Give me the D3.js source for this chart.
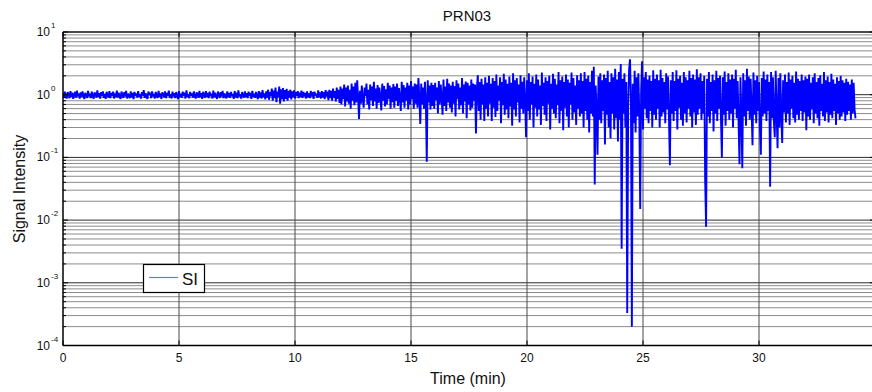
<!DOCTYPE html>
<html>
<head>
<meta charset="utf-8">
<script src="https://cdn.jsdelivr.net/npm/d3@7"></script>
<style>
  body { margin: 0; background: #fff; }
  svg { display: block; }
  text { font-family: "Liberation Sans", Arial, sans-serif; fill: #111; }
</style>
</head>
<body>
<svg id="chart" width="872" height="392"></svg>
<script>
// Signal intensity for PRN03, sampled every 0.04 min from t = 0
const sampleStartMin = 0;
const sampleStepMin = 0.04;
const signalIntensity = [
  1.06,0.9,1.12,0.95,0.87,1.1,1.02,0.88,1.14,0.93,1.08,0.86,0.98,1.11,0.9,1.16,0.94,1.05,0.87,1.09,
  0.92,1.13,0.97,0.85,1.07,1.0,0.89,1.15,0.94,1.04,0.88,1.12,0.96,0.86,1.09,1.01,0.9,1.17,0.93,1.06,
  0.87,1.1,0.95,1.13,0.89,1.03,0.86,1.11,0.98,0.91,1.14,0.88,1.07,0.95,1.12,0.87,1.05,0.92,1.16,0.9,
  1.08,0.94,0.86,1.12,1.0,0.89,1.1,0.93,1.15,0.87,1.04,0.97,0.88,1.13,0.91,1.07,0.85,1.11,0.96,1.05,
  0.9,1.14,0.93,1.02,0.87,1.1,0.95,1.18,0.89,1.06,0.92,0.86,1.12,0.99,1.08,0.88,1.13,0.94,1.03,0.87,
  1.11,0.96,0.89,1.15,0.93,1.05,0.86,1.09,1.0,0.91,1.13,0.88,1.07,0.95,1.16,0.9,1.02,0.87,1.12,0.94,
  1.06,0.88,1.1,0.97,0.85,1.14,0.92,1.04,0.89,1.12,0.95,1.08,0.87,1.17,0.93,1.01,0.88,1.11,0.96,1.05,
  0.9,1.13,0.94,0.87,1.09,1.02,0.89,1.15,0.92,1.06,0.86,1.11,0.98,0.9,1.14,0.93,1.07,0.88,1.12,0.95,
  1.04,0.87,1.16,0.91,1.08,0.94,0.86,1.12,1.0,0.89,1.1,0.93,1.15,0.88,1.05,0.96,0.87,1.13,0.92,1.07,
  0.89,1.11,0.95,1.03,0.86,1.14,0.91,1.08,0.88,1.17,0.94,1.02,0.87,1.1,0.97,0.9,1.13,0.92,1.06,0.88,
  1.12,0.95,1.07,0.86,1.15,0.93,1.04,0.89,1.11,0.96,0.85,1.14,0.9,1.09,0.87,1.18,0.92,1.05,0.84,1.13,
  0.9,1.2,0.83,1.1,0.94,1.25,0.8,1.16,0.88,1.3,0.76,1.12,0.92,1.35,0.72,1.22,0.85,1.28,0.78,1.18,
  0.86,1.24,0.8,1.15,0.9,1.2,0.84,1.13,0.92,1.17,0.87,1.1,0.95,1.14,0.88,1.08,0.93,1.16,0.89,1.11,
  0.94,1.07,0.87,1.13,0.91,1.05,0.88,1.15,0.93,1.1,0.86,1.12,0.96,1.04,0.89,1.17,0.92,1.09,0.87,1.14,
  0.9,1.1,0.85,1.18,0.93,1.12,0.82,1.2,0.88,1.15,0.8,1.25,0.9,1.14,0.78,1.3,0.86,1.2,0.74,1.35,
  0.7,1.25,0.85,1.45,0.65,1.3,0.78,1.4,0.72,1.2,0.6,1.5,0.8,1.35,0.68,1.55,0.75,1.7,0.9,0.41,
  1.15,0.72,1.4,0.85,0.62,1.3,0.95,1.5,0.7,1.2,0.58,1.45,0.82,1.35,0.66,1.6,0.78,1.25,0.6,1.42,
  0.74,1.3,0.9,0.56,1.5,0.8,1.38,0.65,1.22,0.7,1.55,0.85,1.4,0.6,1.3,0.76,1.48,0.62,1.35,0.8,
  1.5,0.66,1.28,0.9,0.55,1.6,0.75,1.42,0.62,1.3,0.8,1.55,0.58,1.4,0.7,1.65,0.85,1.35,0.6,1.5,
  0.72,1.45,0.62,1.85,0.9,0.34,1.5,0.7,1.3,0.6,1.6,0.8,0.085,1.7,0.75,1.4,0.58,1.55,0.66,1.42,
  0.6,1.55,0.82,1.3,0.5,1.65,0.7,1.45,0.9,0.48,1.75,0.66,1.35,0.55,1.8,0.75,1.5,0.62,1.4,0.52,
  1.6,0.72,1.38,0.45,1.7,0.85,1.5,0.58,1.3,0.68,1.85,0.5,1.45,0.78,1.62,0.42,1.55,0.7,1.4,0.56,
  1.75,0.62,1.5,0.8,1.45,0.24,1.3,2.05,0.55,1.6,0.4,1.8,0.7,1.45,0.38,1.9,0.6,1.55,0.45,2.0,
  0.72,1.5,0.38,1.85,0.62,1.65,0.44,2.1,0.55,1.4,0.8,1.9,0.35,1.6,0.68,2.15,0.48,1.75,0.58,1.5,
  0.42,1.95,0.65,1.55,0.32,2.2,0.58,1.7,0.45,1.85,0.75,1.45,0.36,2.05,0.6,1.6,0.5,1.9,0.8,0.21,
  1.7,0.55,2.2,0.4,1.6,0.7,1.95,0.3,1.5,0.62,2.1,0.45,1.75,0.58,1.4,0.33,2.25,0.66,1.55,0.48,
  1.9,0.38,1.65,0.72,2.0,0.28,1.5,0.6,2.15,0.5,1.8,0.42,1.45,0.68,2.3,0.35,1.7,0.55,1.95,0.27,
  1.6,0.62,2.1,0.45,1.75,0.3,1.55,0.7,2.25,0.4,1.85,0.52,1.4,0.33,2.05,0.6,1.7,0.45,2.2,0.5,
  1.65,0.3,2.3,0.55,1.8,0.4,2.0,0.25,1.6,0.5,2.4,0.45,2.8,0.037,1.4,0.6,0.11,1.95,0.4,2.2,
  0.35,1.7,0.55,2.1,0.16,1.85,0.48,2.4,0.3,1.6,0.2,2.2,0.5,1.9,0.28,2.6,0.42,1.75,0.18,2.3,
  0.4,3.1,0.0035,1.8,0.5,2.2,0.3,1.6,0.00033,0.6,2.5,3.66,0.9,0.0002,1.5,0.35,2.4,0.25,1.9,0.45,
  2.2,0.5,0.015,1.2,3.4,0.28,1.9,0.6,2.3,0.42,1.75,0.35,2.0,0.55,1.65,0.3,2.45,0.48,1.8,0.4,
  2.1,0.6,1.7,0.3,2.5,0.45,1.85,0.52,1.6,0.35,2.2,0.58,1.95,0.4,0.075,1.7,0.5,2.3,0.38,1.65,
  0.55,2.45,0.28,1.8,0.62,2.0,0.4,1.55,0.32,2.3,0.5,1.9,0.36,1.7,0.6,2.4,0.45,1.85,0.3,2.1,
  0.52,1.75,0.33,2.55,0.48,1.9,0.6,2.2,0.4,1.65,0.5,2.0,0.042,0.0078,1.8,0.45,2.3,0.35,1.6,0.55,
  2.1,0.26,1.7,0.5,2.4,0.38,1.85,0.6,2.0,0.42,0.1,1.9,0.48,2.35,0.32,1.6,0.55,2.2,0.4,1.75,
  0.5,2.1,0.3,1.8,0.6,2.5,0.42,1.65,0.35,0.078,1.9,0.52,0.067,2.2,0.45,1.7,0.32,2.6,0.55,1.95,
  0.4,1.8,0.6,0.157,2.25,0.48,1.7,0.35,2.0,0.55,1.6,0.3,0.11,1.85,0.45,2.35,0.5,1.75,0.38,2.1,
  0.55,1.6,0.034,2.3,0.42,1.9,0.38,0.21,2.4,0.5,0.14,1.85,0.3,2.2,0.45,0.17,1.7,0.52,2.1,0.36,
  1.6,0.5,2.25,0.33,1.75,0.6,2.0,0.42,1.55,0.36,2.35,0.48,1.8,0.4,1.65,0.55,2.1,0.38,1.7,0.52,
  1.95,0.27,1.8,0.45,2.1,0.4,1.55,0.58,1.9,0.35,2.2,0.5,1.6,0.42,1.85,0.32,2.05,0.55,1.5,0.45,
  2.3,0.38,1.7,0.52,1.95,0.36,1.6,0.48,2.15,0.42,1.75,0.55,1.5,0.33,1.9,0.5,1.65,0.4,2.0,0.45,
  1.7,0.52,1.55,0.38,1.8,0.48,1.6,0.55,1.45,0.4,1.75,0.5,1.55,0.58,0.42
];

const xDomain = [0, 35];
const yDomain = [1e-4, 1e1];
const xTicks = [0, 5, 10, 15, 20, 25, 30];
const yDecadeExponents = [-4, -3, -2, -1, 0, 1];
const minorMultipliers = [2, 3, 4, 5, 6, 7, 8, 9];
const titleText = "PRN03";
const xLabelText = "Time (min)";
const yLabelText = "Signal Intensity";
const legendLabel = "SI";

const plot = { left: 63, right: 875, top: 32, bottom: 345.5 };
const svg = d3.select("#chart");
svg.append("rect").attr("width", 872).attr("height", 392).attr("fill", "#fff");

const x = d3.scaleLinear().domain(xDomain).range([plot.left, plot.right]);
const y = d3.scaleLog().domain(yDomain).range([plot.bottom, plot.top]);

const series = signalIntensity.map((v, i) => ({ t: sampleStartMin + i * sampleStepMin, v }));

// minor horizontal grid
const minorVals = [];
yDecadeExponents.slice(0, -1).forEach(e => minorMultipliers.forEach(m => minorVals.push(m * Math.pow(10, e))));
const grid = svg.append("g");
grid.selectAll("line.minor").data(minorVals).join("line")
  .attr("x1", plot.left).attr("x2", plot.right)
  .attr("y1", d => y(d)).attr("y2", d => y(d))
  .attr("stroke", "#8c8c8c").attr("stroke-width", 1);
// decade grid lines
grid.selectAll("line.major").data(yDecadeExponents.map(e => Math.pow(10, e))).join("line")
  .attr("x1", plot.left).attr("x2", plot.right)
  .attr("y1", d => y(d)).attr("y2", d => y(d))
  .attr("stroke", "#2a2a2a").attr("stroke-width", 1);
// vertical grid lines
grid.selectAll("line.vert").data(xTicks.filter(d => d > 0)).join("line")
  .attr("x1", d => x(d)).attr("x2", d => x(d))
  .attr("y1", plot.top).attr("y2", plot.bottom)
  .attr("stroke", "#4a4a4a").attr("stroke-width", 1);

// data line
svg.append("defs").append("clipPath").attr("id", "plotClip")
  .append("rect").attr("x", plot.left).attr("y", plot.top)
  .attr("width", plot.right - plot.left).attr("height", plot.bottom - plot.top);
const line = d3.line().x(d => x(d.t)).y(d => y(d.v));
svg.append("path").datum(series)
  .attr("clip-path", "url(#plotClip)")
  .attr("d", line).attr("fill", "none")
  .attr("stroke", "#0000ff").attr("stroke-width", 1.9).attr("stroke-linejoin", "bevel");

// axes frame
const frame = svg.append("g").attr("stroke", "#000").attr("fill", "none");
frame.append("line").attr("x1", plot.left).attr("x2", plot.right).attr("y1", plot.bottom).attr("y2", plot.bottom).attr("stroke-width", 1.5);
frame.append("line").attr("x1", plot.left).attr("x2", plot.right).attr("y1", plot.top).attr("y2", plot.top).attr("stroke-width", 1.2);
frame.append("line").attr("x1", plot.left).attr("x2", plot.left).attr("y1", plot.top).attr("y2", plot.bottom).attr("stroke-width", 1.5);
frame.append("line").attr("x1", plot.right).attr("x2", plot.right).attr("y1", plot.top).attr("y2", plot.bottom).attr("stroke-width", 1.2);

// x ticks (inward, top and bottom)
const ticks = svg.append("g").attr("stroke", "#000").attr("stroke-width", 1);
xTicks.forEach(t => {
  ticks.append("line").attr("x1", x(t)).attr("x2", x(t)).attr("y1", plot.bottom).attr("y2", plot.bottom - 5);
  ticks.append("line").attr("x1", x(t)).attr("x2", x(t)).attr("y1", plot.top).attr("y2", plot.top + 5);
});
// y ticks (inward, left and right)
yDecadeExponents.forEach(e => {
  const yy = y(Math.pow(10, e));
  ticks.append("line").attr("x1", plot.left).attr("x2", plot.left + 5).attr("y1", yy).attr("y2", yy);
  ticks.append("line").attr("x1", plot.right).attr("x2", plot.right - 5).attr("y1", yy).attr("y2", yy);
});
minorVals.forEach(v => {
  const yy = y(v);
  ticks.append("line").attr("x1", plot.left).attr("x2", plot.left + 3).attr("y1", yy).attr("y2", yy);
  ticks.append("line").attr("x1", plot.right).attr("x2", plot.right - 3).attr("y1", yy).attr("y2", yy);
});

// tick labels
const xl = svg.append("g");
xl.selectAll("text").data(xTicks).join("text")
  .attr("x", d => x(d)).attr("y", 361.5)
  .attr("text-anchor", "middle").attr("font-size", 12)
  .text(d => d);

const yl = svg.append("g");
yDecadeExponents.forEach(e => {
  const yy = y(Math.pow(10, e));
  yl.append("text").attr("x", 50).attr("y", yy + 4).attr("text-anchor", "end")
    .attr("font-size", 12).text("10");
  yl.append("text").attr("x", 51).attr("y", yy - 4).attr("text-anchor", "start")
    .attr("font-size", 8).text(e);
});

// title and axis labels
svg.append("text").attr("x", 467).attr("y", 21).attr("text-anchor", "middle")
  .attr("font-size", 15).text(titleText);
svg.append("text").attr("x", 468).attr("y", 384).attr("text-anchor", "middle")
  .attr("font-size", 16).text(xLabelText);
svg.append("text").attr("transform", "translate(25,189) rotate(-90)")
  .attr("text-anchor", "middle").attr("font-size", 16).text(yLabelText);

// legend
const lg = svg.append("g");
lg.append("rect").attr("x", 143.5).attr("y", 264.5).attr("width", 61).attr("height", 28)
  .attr("fill", "#fff").attr("stroke", "#000").attr("stroke-width", 1.2);
lg.append("line").attr("x1", 149).attr("x2", 178).attr("y1", 277.5).attr("y2", 277.5)
  .attr("stroke", "#6f6fff").attr("stroke-width", 1.2);
lg.append("text").attr("x", 182).attr("y", 285).attr("font-size", 17).text(legendLabel);
</script>
</body>
</html>
